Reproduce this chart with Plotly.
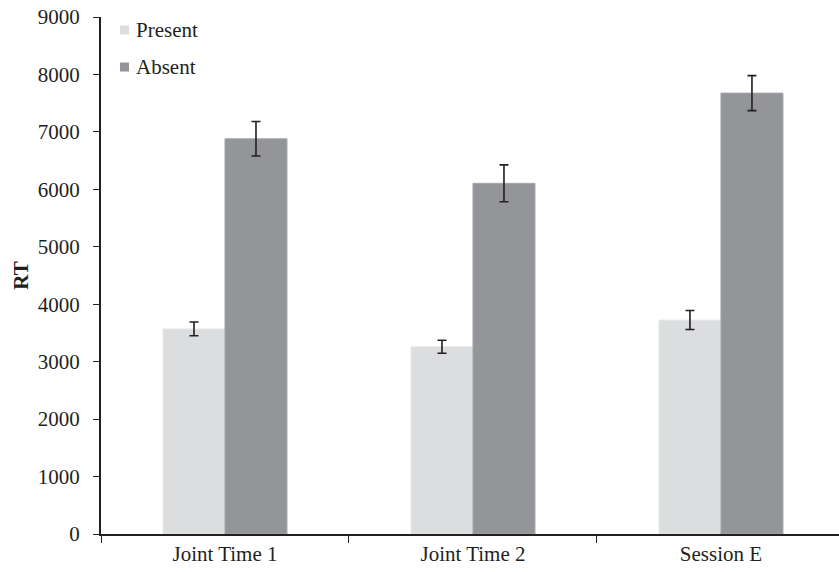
import plotly.graph_objects as go

# Response times by session and target condition
sessions = ["Joint Time 1", "Joint Time 2", "Session E"]
present_rt = [3570, 3260, 3725]
present_err = [120, 113, 165]
absent_rt = [6880, 6105, 7675]
absent_err = [300, 320, 305]
y_ticks = [0, 1000, 2000, 3000, 4000, 5000, 6000, 7000, 8000, 9000]

font_family = "Liberation Serif, Times New Roman, serif"
ink = "#231f20"
present_color = "#dcdddf"
absent_color = "#939598"

fig = go.Figure()
fig.add_trace(go.Bar(
    name="Present", x=sessions, y=present_rt,
    marker=dict(color=present_color, line=dict(color="#e8e9ea", width=1)),
    error_y=dict(type="data", array=present_err, color=ink, thickness=1.6, width=4.5),
))
fig.add_trace(go.Bar(
    name="Absent", x=sessions, y=absent_rt,
    marker=dict(color=absent_color, line=dict(color="#a3a5a8", width=1)),
    error_y=dict(type="data", array=absent_err, color=ink, thickness=1.6, width=4.5),
))

# Compact legend: small swatches with labels, top-left of the plot area
legend_items = [("Present", present_color, 30), ("Absent", absent_color, 67)]
for label, color, ypix in legend_items:
    fig.add_shape(
        type="rect", xref="paper", yref="paper",
        x0=(120 - 101) / 738, x1=(129 - 101) / 738,
        y0=(534 - ypix - 4.5) / 517, y1=(534 - ypix + 4.5) / 517,
        fillcolor=color, line=dict(width=0),
    )
    fig.add_annotation(
        xref="paper", yref="paper", x=(134 - 101) / 738, y=(534 - ypix) / 517,
        text=label, showarrow=False, xanchor="left", yanchor="middle",
        font=dict(size=21, family=font_family, color=ink),
    )

fig.update_layout(
    width=839, height=572,
    margin=dict(l=101, r=0, t=17, b=38),
    paper_bgcolor="white", plot_bgcolor="white",
    barmode="group", bargap=0.5, bargroupgap=0,
    font=dict(family=font_family, size=21, color=ink),
    showlegend=False,
)
fig.update_xaxes(
    range=[-0.5, 2.476],
    showline=True, linecolor=ink, linewidth=2,
    ticks="outside", tickson="boundaries", ticklen=7, tickwidth=1.2, tickcolor=ink,
    showgrid=False, tickfont=dict(size=21),
)
fig.update_yaxes(
    range=[0, 9000], tickvals=y_ticks,
    showline=True, linecolor=ink, linewidth=2,
    ticks="outside", ticklen=6, tickwidth=1.2, tickcolor=ink,
    ticklabelstandoff=9,
    showgrid=False, zeroline=False, tickfont=dict(size=21),
    title=dict(text="<b>RT</b>", font=dict(size=21), standoff=3),
)

fig.write_html("out.html")
